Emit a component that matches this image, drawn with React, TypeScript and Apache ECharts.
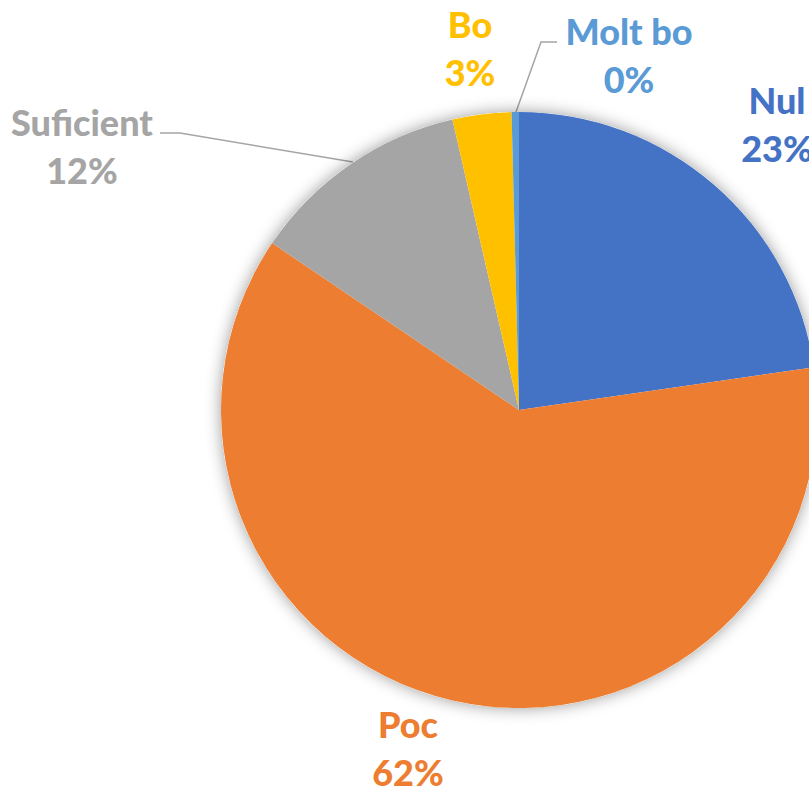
import React, { useEffect, useRef } from "react";
import * as echarts from "echarts";

const categories = ["Nul", "Poc", "Suficient", "Bo", "Molt bo"];
const values = [57, 155, 30, 8, 1];
const colors = ["#4472C4", "#ED7D31", "#A5A5A5", "#FFC000", "#5B9BD5"];

// label anchor positions (layout only)
const labelPos: { x: number; y: number; line?: number[][] }[] = [
  { x: 777, y: 124 },
  { x: 408, y: 748 },
  { x: 82, y: 146, line: [[160, 133], [180, 133], [353, 162]] },
  { x: 470, y: 48 },
  { x: 629, y: 55, line: [[557, 42], [541, 42], [516, 112]] },
];

export default function App() {
  const ref = useRef<HTMLDivElement>(null);
  useEffect(() => {
    document.body.style.margin = "0";
    const chart = echarts.init(ref.current!, null, { renderer: "svg" });
    chart.setOption({
      animation: false,
      backgroundColor: "#ffffff",
      series: [
        {
          type: "pie",
          silent: true,
          center: [519, 410],
          radius: 298,
          label: { show: false },
          labelLine: { show: false },
          itemStyle: {
            color: "#ffffff",
            shadowBlur: 16,
            shadowColor: "rgba(0,0,0,0.4)",
          },
          data: [{ value: 1, name: "" }],
        },
        {
          type: "pie",
          center: [519, 410],
          radius: 298,
          startAngle: 90,
          clockwise: true,
          percentPrecision: 0,
          avoidLabelOverlap: false,
          itemStyle: { borderWidth: 0 },
          label: {
            show: true,
            formatter: "{b}\n{d}%",
            fontFamily: "Lato",
            fontWeight: 900,
            fontSize: 36,
            lineHeight: 48,
            align: "center",
          },
          labelLine: {
            show: true,
            lineStyle: { color: "#A5A5A5", width: 1.5 },
          },
          labelLayout: (p: any) => {
            const pos = labelPos[p.dataIndex];
            if (!pos) return {};
            const r: any = {
              x: pos.x,
              y: pos.y,
              align: "center",
              verticalAlign: "middle",
            };
            if (pos.line) r.labelLinePoints = pos.line;
            return r;
          },
          data: categories.map((c, i) => ({
            name: c,
            value: values[i],
            itemStyle: { color: colors[i] },
            label: { color: colors[i] },
            labelLine: { show: !!labelPos[i].line },
          })),
        },
      ],
    });
    return () => chart.dispose();
  }, []);
  return <div ref={ref} style={{ width: 809, height: 792 }} />;
}
